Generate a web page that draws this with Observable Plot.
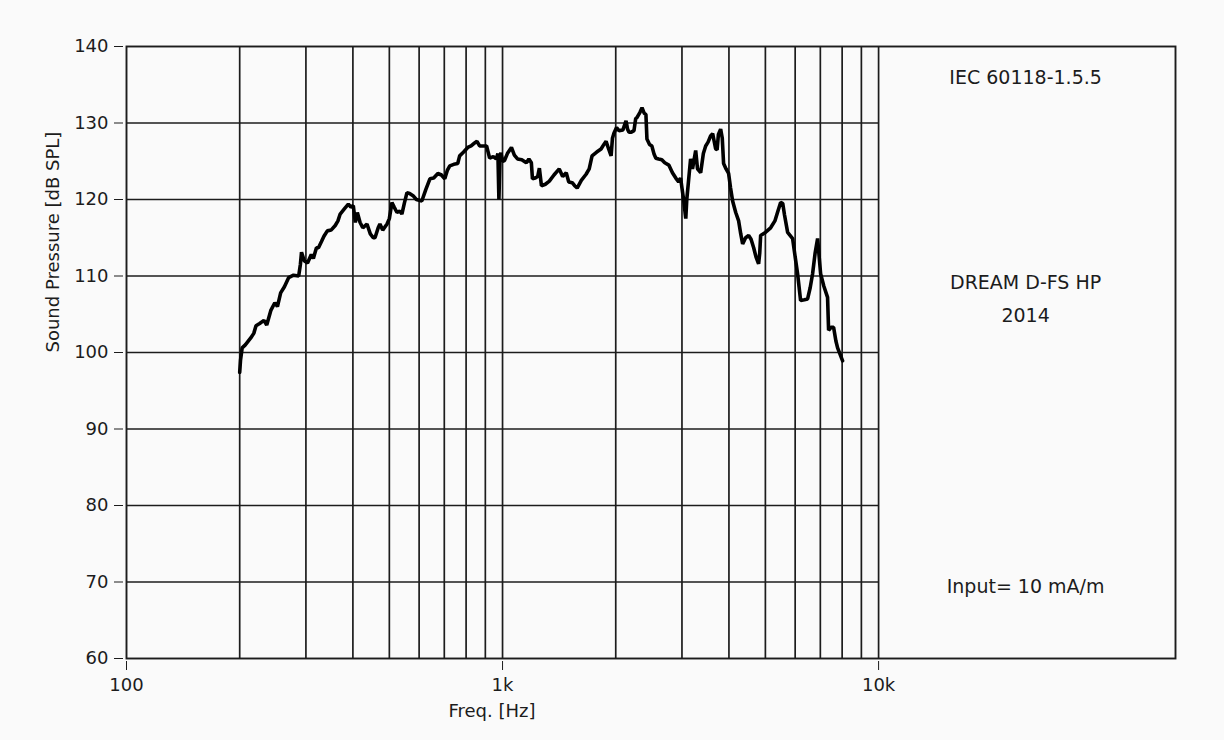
<!DOCTYPE html>
<html>
<head>
<meta charset="utf-8">
<script src="https://cdn.jsdelivr.net/npm/d3@7"></script>
<script src="https://cdn.jsdelivr.net/npm/@observablehq/plot@0.6"></script>
<style>
  html, body { margin: 0; padding: 0; background: #fafafa; }
  #chart svg { display: block; background: #fafafa; }
</style>
</head>
<body>
<div id="chart"></div>
<script>
// Frequency (Hz) and sound pressure (dB SPL)
const freq = [200,201,203,207,214,218,221,226,232,236,242,248,252,257,263,270,278,287,290,292,297,303,310,314,320,324,330,335,342,350,359,365,370,380,389,395,401,406,411,418,425,436,445,453,458,467,472,480,493,500,508,515,524,533,540,548,557,566,578,590,610,625,641,656,673,688,702,713,724,742,760,769,788,808,825,843,855,869,890,907,924,945,962,972,978,985,990,1000,1012,1030,1056,1075,1096,1125,1157,1175,1193,1201,1220,1240,1253,1269,1300,1332,1370,1415,1445,1477,1500,1532,1555,1579,1620,1668,1700,1730,1780,1828,1860,1885,1915,1944,1960,1979,2010,2040,2090,2130,2150,2169,2200,2236,2260,2277,2320,2349,2380,2406,2421,2460,2495,2530,2557,2600,2652,2700,2768,2830,2889,2940,2975,3000,3030,3071,3090,3163,3200,3263,3300,3364,3420,3469,3520,3575,3621,3688,3720,3750,3802,3840,3871,3930,3992,4040,4091,4170,4245,4300,4350,4430,4513,4580,4654,4720,4797,4830,4857,5000,5163,5300,5400,5489,5560,5620,5730,5907,6000,6090,6203,6350,6475,6580,6676,6780,6884,6950,7012,7150,7317,7363,7480,7592,7700,7781,8023];
const spl = [97.4,99.0,100.6,101.0,101.9,102.5,103.5,103.8,104.2,103.6,105.5,106.5,106.0,107.8,108.6,109.8,110.1,110.0,111.5,113.1,112.0,111.7,112.8,112.3,113.7,113.7,114.5,115.2,115.9,116.0,116.6,117.2,118.1,118.8,119.4,119.0,119.2,117.0,118.3,117.0,116.3,116.8,115.5,115.0,115.0,116.3,116.8,116.0,116.8,117.5,119.6,119.0,118.3,118.5,118.1,119.5,120.9,120.8,120.5,120.0,119.8,121.3,122.7,122.8,123.4,123.2,122.7,123.8,124.4,124.6,124.7,125.7,126.2,126.8,127.0,127.4,127.6,127.0,127.0,127.0,125.4,125.6,125.3,126.0,120.0,125.8,126.1,125.0,125.1,126.0,126.8,125.8,125.3,125.2,124.8,125.3,124.8,122.7,122.8,123.0,124.1,121.8,122.0,122.4,123.2,124.0,123.0,123.5,122.3,122.2,121.8,121.5,122.5,123.3,124.0,125.7,126.2,126.6,127.2,127.6,126.6,125.7,128.0,128.7,129.4,129.0,129.1,130.3,129.2,128.8,128.8,129.0,130.6,130.7,131.4,132.0,131.3,131.1,127.9,127.2,127.0,125.9,125.4,125.3,125.2,124.8,124.5,123.5,122.8,122.3,122.8,121.5,120.0,117.5,120.0,125.3,124.0,126.4,124.0,123.5,126.0,127.0,127.5,128.3,128.6,126.6,126.5,128.5,129.2,128.0,124.7,124.0,123.4,121.5,119.8,118.3,117.2,115.5,114.2,115.0,115.3,114.8,113.7,112.5,111.6,113.0,115.3,115.7,116.3,117.2,118.5,119.6,119.5,118.0,115.7,114.9,112.5,110.3,106.8,106.9,107.0,108.5,110.3,113.0,114.9,112.5,110.3,108.7,107.2,102.9,103.3,103.3,101.5,100.6,98.9];

const xTicks = [100, 1000, 10000];
const xTickLabels = ["100", "1k", "10k"];
const yTicks = [60, 70, 80, 90, 100, 110, 120, 130, 140];
const vGrid = [200, 300, 400, 500, 600, 700, 800, 900, 1000, 2000, 3000, 4000, 5000, 6000, 7000, 8000, 9000, 10000];
const hGrid = [70, 80, 90, 100, 110, 120, 130];
const xLabel = "Freq. [Hz]";
const yLabel = "Sound Pressure [dB SPL]";
const notes = ["IEC 60118-1.5.5", "DREAM D-FS HP", "2014", "Input= 10 mA/m"];
const noteY = [135.9, 109.1, 104.8, 69.3];
const noteX = 24600;

const data = freq.map((f, i) => ({f, v: spl[i]}));
const noteData = notes.map((t, i) => ({t, y: noteY[i]}));
const font = "'DejaVu Sans', Tahoma, sans-serif";
const ink = "#1c1c1c";

const chart = Plot.plot({
  width: 1224,
  height: 740,
  marginLeft: 126,
  marginRight: 49,
  marginTop: 46,
  marginBottom: 82,
  style: {background: "#fafafa", fontFamily: font, color: ink},
  x: {type: "log", domain: [100, 61600]},
  y: {domain: [60, 140]},
  marks: [
    Plot.ruleX(vGrid, {stroke: ink, strokeWidth: 1.7}),
    Plot.ruleY(hGrid, {x1: 100, x2: 10000, stroke: ink, strokeWidth: 1.7}),
    Plot.frame({stroke: ink, strokeWidth: 1.9}),
    Plot.line(data, {x: "f", y: "v", stroke: "#000", strokeWidth: 3.6, strokeLinejoin: "miter"}),
    Plot.axisX(xTicks, {tickSize: 9, dy: 3, tickPadding: 8, fontSize: 18, stroke: ink,
      tickFormat: (d) => xTickLabels[xTicks.indexOf(d)], label: null}),
    Plot.axisY(yTicks, {tickSize: 9, dx: -3, tickPadding: 6, fontSize: 18, stroke: ink, label: null}),
    Plot.text([xLabel], {frameAnchor: "bottom", dx: -159, dy: 58, fontSize: 18, fill: ink}),
    Plot.text([yLabel], {frameAnchor: "left", dx: -73, rotate: -90, fontSize: 18, fill: ink}),
    Plot.text(noteData, {x: noteX, y: "y", text: "t", fontSize: 19, fill: ink})
  ]
});
document.getElementById("chart").appendChild(chart);
</script>
</body>
</html>
